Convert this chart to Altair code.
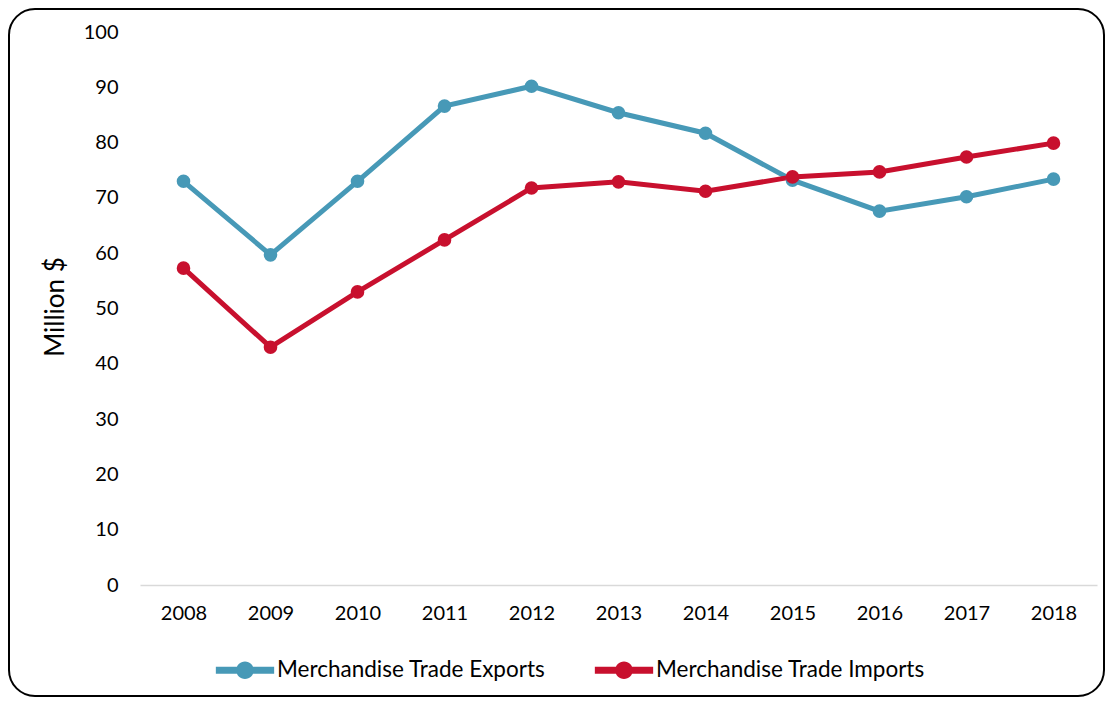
import altair as alt
import pandas as pd

years = ["2008", "2009", "2010", "2011", "2012", "2013", "2014", "2015", "2016", "2017", "2018"]
exports = [73.0, 59.7, 73.0, 86.6, 90.2, 85.4, 81.7, 73.2, 67.6, 70.2, 73.4]
imports = [57.3, 43.0, 53.0, 62.4, 71.8, 72.9, 71.2, 73.8, 74.7, 77.4, 79.9]
series_names = ["Merchandise Trade Exports", "Merchandise Trade Imports"]
series_colors = ["#4799B7", "#C8102E"]

rows = []
for y, v in zip(years, exports):
    rows.append({"Year": y, "Value": v, "Series": series_names[0]})
for y, v in zip(years, imports):
    rows.append({"Year": y, "Value": v, "Series": series_names[1]})
df = pd.DataFrame(rows)

W, H = 957, 553
FONT = "Lato"

legend_path = ("M-2,-0.24 L2,-0.24 L2,0.24 L-2,0.24 Z "
               "M-0.6,0 A0.6,0.6 0 1,1 0.6,0 A0.6,0.6 0 1,1 -0.6,0 Z")

color = alt.Color(
    "Series:N",
    scale=alt.Scale(domain=series_names, range=series_colors),
    legend=alt.Legend(
        title=None,
        orient="none",
        legendX=90,
        legendY=623,
        direction="horizontal",
        symbolType=legend_path,
        symbolSize=850,
        symbolStrokeWidth=0,
        labelFont=FONT,
        labelFontSize=22.5,
        labelColor="#000000",
        labelOffset=17,
        labelLimit=0,
        columnPadding=48,
    ),
)

x = alt.X("Year:O", sort=years,
          axis=alt.Axis(title=None, labelAngle=0, labelFont=FONT, labelFontSize=20,
                        labelColor="#000000", ticks=False, domainColor="#D9D9D9",
                        domainWidth=1.5, labelPadding=18))
y = alt.Y("Value:Q", scale=alt.Scale(domain=[0, 100], nice=False),
          axis=alt.Axis(title="Million $", values=list(range(0, 101, 10)), grid=False,
                        domain=False, ticks=False, labelFont=FONT, labelFontSize=20,
                        labelColor="#000000", labelPadding=22, titleFont=FONT,
                        titleFontSize=26, titleFontWeight="normal", titleColor="#000000",
                        titleX=-72, titleY=H / 2 - 2))

base = alt.Chart(df)
lines = base.mark_line(strokeWidth=5).encode(x=x, y=y, color=color)
points = base.mark_circle(size=185, opacity=1).encode(x=x, y=y, color=color)

border = alt.Chart(pd.DataFrame({"a": [0]})).mark_rect(
    fill=None, stroke="#000000", strokeWidth=2, cornerRadius=26, clip=False
).encode(
    x=alt.value(-131), x2=alt.value(W + 7),
    y=alt.value(-23), y2=alt.value(H + 111),
)

chart = alt.layer(border, lines, points).properties(
    width=W, height=H,
    background="white",
    autosize=alt.AutoSizeParams(type="none"),
    padding={"left": 132, "top": 24, "right": 8, "bottom": 112},
).configure_view(strokeWidth=0, stroke="transparent")

chart.save("out.html", embed_options={"renderer": "svg", "actions": False})
